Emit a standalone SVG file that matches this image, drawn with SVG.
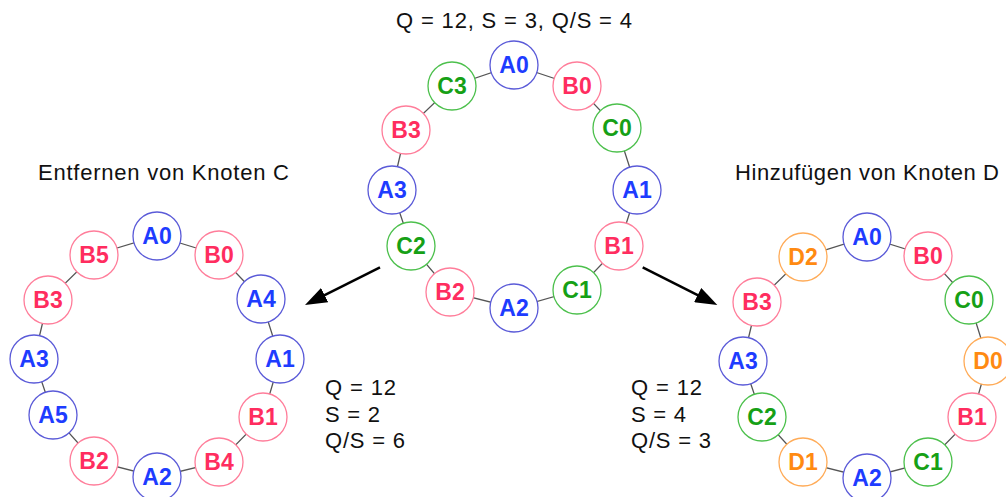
<svg xmlns="http://www.w3.org/2000/svg" width="1006" height="497" viewBox="0 0 1006 497">
  <defs>
    <style>
      .lbl { font-family: "Liberation Sans", Arial, sans-serif; font-size: 22px; fill: #111; }
      .node circle { fill: #fff; stroke-width: 1.3; }
      .node text { font-family: "Liberation Sans", Arial, sans-serif; font-size: 23px; font-weight: bold; text-anchor: middle; }
      .a circle { stroke: #5a5ad8; } .a text { fill: #1e3cff; }
      .b circle { stroke: #ff7d9a; } .b text { fill: #ff2d5f; }
      .c circle { stroke: #4cc04c; } .c text { fill: #16a016; }
      .d circle { stroke: #ffab57; } .d text { fill: #ff8a12; }
      .edge { stroke: #555; stroke-width: 1.3; fill: none; }
      .arrow { stroke: #000; stroke-width: 2.5; fill: none; marker-end: url(#head); }
    </style>
    <marker id="head" viewBox="0 0 22 16" refX="10" refY="8" markerWidth="22" markerHeight="16" markerUnits="userSpaceOnUse" orient="auto">
      <path d="M0,0 L22,8 L0,16 z" fill="#000"/>
    </marker>
  </defs>
  <rect width="1006" height="497" fill="#fff"/>

  <!-- captions -->
  <text class="lbl" x="396" y="28" textLength="236" lengthAdjust="spacing">Q = 12, S = 3, Q/S = 4</text>
  <text class="lbl" x="38" y="180" textLength="251" lengthAdjust="spacing">Entfernen von Knoten C</text>
  <text class="lbl" x="735" y="180" textLength="264" lengthAdjust="spacing">Hinzufügen von Knoten D</text>
  <text class="lbl" x="325" y="395" textLength="71" lengthAdjust="spacing">Q = 12</text>
  <text class="lbl" x="325" y="422" textLength="55" lengthAdjust="spacing">S = 2</text>
  <text class="lbl" x="325" y="448" textLength="80" lengthAdjust="spacing">Q/S = 6</text>
  <text class="lbl" x="631" y="395" textLength="71" lengthAdjust="spacing">Q = 12</text>
  <text class="lbl" x="631" y="422" textLength="55" lengthAdjust="spacing">S = 4</text>
  <text class="lbl" x="631" y="448" textLength="80" lengthAdjust="spacing">Q/S = 3</text>

  <!-- connectors: ring edges and transition arrows -->
  <g id="connectors">
    <polygon class="edge" points="514,65 577,86 617,128 637,190 619,246 577,290 514,308 450,292 411,246 392,190 406,130 452,86"/>
    <polygon class="edge" points="157,236 219,255 261,299 280,359 263,417 219,462 157,477 94,461 53,415 34,359 48,300 94,255"/>
    <polygon class="edge" points="867,237 928,256 969,300 988,361 972,417 928,462 867,478 803,462 762,417 743,361 757,302 803,257"/>
    <line class="arrow" x1="380" y1="267.3" x2="315.7" y2="299.6"/>
    <line class="arrow" x1="642.7" y1="267.3" x2="706.6" y2="299.6"/>
  </g>

  <!-- ring with nodes A, B, C -->
  <g id="ring-abc">
    <g id="m-A0" class="node a"><circle cx="514" cy="65" r="24"/><text x="514" y="73">A0</text></g>
    <g id="m-B0" class="node b"><circle cx="577" cy="86" r="24"/><text x="577" y="94">B0</text></g>
    <g id="m-C0" class="node c"><circle cx="617" cy="128" r="24"/><text x="617" y="136">C0</text></g>
    <g id="m-A1" class="node a"><circle cx="637" cy="190" r="24"/><text x="637" y="198">A1</text></g>
    <g id="m-B1" class="node b"><circle cx="619" cy="246" r="24"/><text x="619" y="254">B1</text></g>
    <g id="m-C1" class="node c"><circle cx="577" cy="290" r="24"/><text x="577" y="298">C1</text></g>
    <g id="m-A2" class="node a"><circle cx="514" cy="308" r="24"/><text x="514" y="316">A2</text></g>
    <g id="m-B2" class="node b"><circle cx="450" cy="292" r="24"/><text x="450" y="300">B2</text></g>
    <g id="m-C2" class="node c"><circle cx="411" cy="246" r="24"/><text x="411" y="254">C2</text></g>
    <g id="m-A3" class="node a"><circle cx="392" cy="190" r="24"/><text x="392" y="198">A3</text></g>
    <g id="m-B3" class="node b"><circle cx="406" cy="130" r="24"/><text x="406" y="138">B3</text></g>
    <g id="m-C3" class="node c"><circle cx="452" cy="86" r="24"/><text x="452" y="94">C3</text></g>
  </g>

  <!-- ring after removing C -->
  <g id="ring-ab">
    <g id="l-A0" class="node a"><circle cx="157" cy="236" r="24"/><text x="157" y="244">A0</text></g>
    <g id="l-B0" class="node b"><circle cx="219" cy="255" r="24"/><text x="219" y="263">B0</text></g>
    <g id="l-A4" class="node a"><circle cx="261" cy="299" r="24"/><text x="261" y="307">A4</text></g>
    <g id="l-A1" class="node a"><circle cx="280" cy="359" r="24"/><text x="280" y="367">A1</text></g>
    <g id="l-B1" class="node b"><circle cx="263" cy="417" r="24"/><text x="263" y="425">B1</text></g>
    <g id="l-B4" class="node b"><circle cx="219" cy="462" r="24"/><text x="219" y="470">B4</text></g>
    <g id="l-A2" class="node a"><circle cx="157" cy="477" r="24"/><text x="157" y="485">A2</text></g>
    <g id="l-B2" class="node b"><circle cx="94" cy="461" r="24"/><text x="94" y="469">B2</text></g>
    <g id="l-A5" class="node a"><circle cx="53" cy="415" r="24"/><text x="53" y="423">A5</text></g>
    <g id="l-A3" class="node a"><circle cx="34" cy="359" r="24"/><text x="34" y="367">A3</text></g>
    <g id="l-B3" class="node b"><circle cx="48" cy="300" r="24"/><text x="48" y="308">B3</text></g>
    <g id="l-B5" class="node b"><circle cx="94" cy="255" r="24"/><text x="94" y="263">B5</text></g>
  </g>

  <!-- ring after adding D -->
  <g id="ring-abcd">
    <g id="r-A0" class="node a"><circle cx="867" cy="237" r="24"/><text x="867" y="245">A0</text></g>
    <g id="r-B0" class="node b"><circle cx="928" cy="256" r="24"/><text x="928" y="264">B0</text></g>
    <g id="r-C0" class="node c"><circle cx="969" cy="300" r="24"/><text x="969" y="308">C0</text></g>
    <g id="r-D0" class="node d"><circle cx="988" cy="361" r="24"/><text x="988" y="369">D0</text></g>
    <g id="r-B1" class="node b"><circle cx="972" cy="417" r="24"/><text x="972" y="425">B1</text></g>
    <g id="r-C1" class="node c"><circle cx="928" cy="462" r="24"/><text x="928" y="470">C1</text></g>
    <g id="r-A2" class="node a"><circle cx="867" cy="478" r="24"/><text x="867" y="486">A2</text></g>
    <g id="r-D1" class="node d"><circle cx="803" cy="462" r="24"/><text x="803" y="470">D1</text></g>
    <g id="r-C2" class="node c"><circle cx="762" cy="417" r="24"/><text x="762" y="425">C2</text></g>
    <g id="r-A3" class="node a"><circle cx="743" cy="361" r="24"/><text x="743" y="369">A3</text></g>
    <g id="r-B3" class="node b"><circle cx="757" cy="302" r="24"/><text x="757" y="310">B3</text></g>
    <g id="r-D2" class="node d"><circle cx="803" cy="257" r="24"/><text x="803" y="265">D2</text></g>
  </g>
</svg>
